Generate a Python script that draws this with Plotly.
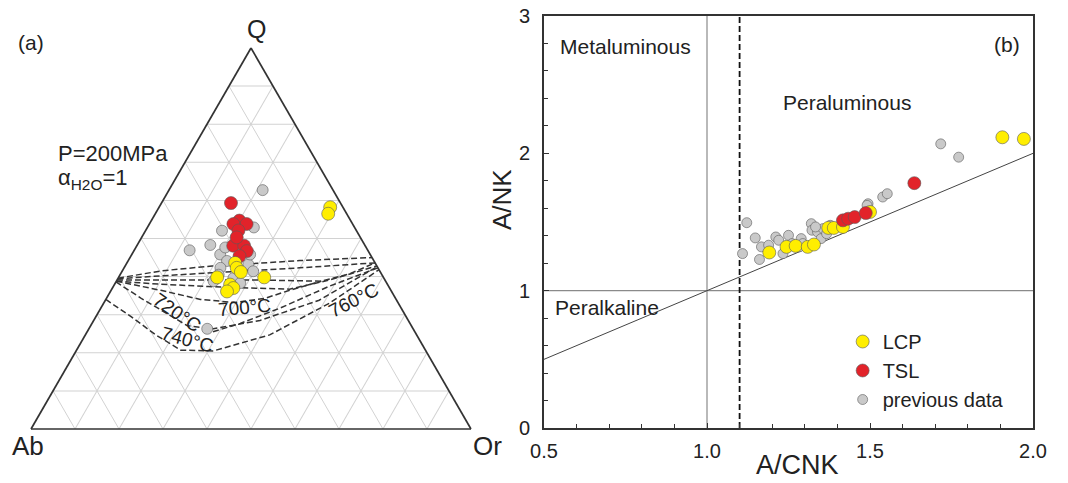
import plotly.graph_objects as go

# ---------------- Panel (a): Q-Ab-Or ternary data (%) ----------------
lcp_q = [58.2, 56.5, 43.6, 42.3, 41.2, 39.8, 39.8, 37.9, 37.0, 36.1]
lcp_ab = [2.9, 4.2, 31.8, 32.1, 31.7, 37.8, 27.1, 35.8, 35.5, 37.4]
lcp_or = [38.9, 39.3, 24.6, 25.6, 27.1, 22.4, 33.1, 26.3, 27.5, 26.5]

tsl_q = [59.3, 54.7, 53.8, 53.8, 52.1, 48.1, 48.1, 46.7, 45.4, 50.3]
tsl_ab = [24.9, 25.3, 24.1, 27.1, 26.8, 30.0, 27.5, 27.6, 29.9, 28.1]
tsl_or = [15.8, 20.0, 22.1, 19.1, 21.1, 21.9, 24.4, 25.7, 24.7, 21.6]

prev_q = [62.7, 46.9, 48.3, 52.1, 53.8, 52.9, 45.8, 44.1, 42.3, 43.2, 41.4, 38.8,
          39.6, 38.3, 26.3, 40.5, 45.8, 47.6]
prev_ab = [16.0, 40.5, 35.1, 30.6, 26.2, 22.9, 34.1, 33.4, 35.8, 29.0, 28.8, 39.1,
           34.2, 33.3, 46.8, 37.1, 27.3, 32.0]
prev_or = [21.3, 12.6, 16.6, 17.4, 20.0, 24.2, 20.1, 22.5, 21.9, 27.8, 29.8, 22.1,
           26.2, 28.4, 26.9, 22.4, 26.9, 20.3]

# cotectic / isotherm curves (Q, Or); Ab = 100 - Q - Or
cot1_q = [39.6, 41.5, 42.8, 43.2, 44.2, 45.0]
cot1_or = [0.0, 8.8, 19.8, 25.9, 39.0, 55.0]
cot2_q = [39.4, 40.2, 41.0, 41.4, 42.3, 43.6]
cot2_or = [0.0, 9.4, 20.7, 26.8, 39.9, 56.4]
cot3_q = [39.1, 39.1, 39.1, 39.1, 38.8, 40.7, 43.6]
cot3_or = [0.0, 10.0, 20.8, 32.5, 46.6, 52.0, 56.4]
cot4_q = [38.8, 38.0, 37.4, 37.0, 36.7, 39.1, 42.8]
cot4_or = [0.0, 10.5, 21.6, 31.3, 40.4, 48.3, 57.2]
iso700_q = [38.8, 36.4, 34.0, 33.2, 34.3, 36.4, 38.8]
iso700_or = [0.0, 11.3, 21.5, 29.8, 36.0, 40.6, 46.6]
iso720_q = [38.6, 34.3, 31.7, 27.1, 26.3, 28.5, 33.8, 42.6]
iso720_or = [0.0, 7.9, 13.0, 22.0, 28.3, 37.8, 48.6, 57.4]
iso740_q = [34.0, 29.5, 24.7, 20.7, 20.5, 24.7, 33.0, 41.8]
iso740_or = [0.0, 8.0, 16.0, 23.7, 31.2, 41.9, 51.3, 58.2]
iso760_q = [42.3, 37.5, 31.7, 27.7, 25.3]
iso760_or = [57.7, 49.1, 40.7, 33.7, 28.1]

curves = [(cot1_q, cot1_or), (cot2_q, cot2_or), (cot3_q, cot3_or), (cot4_q, cot4_or),
          (iso700_q, iso700_or), (iso720_q, iso720_or), (iso740_q, iso740_or),
          (iso760_q, iso760_or)]

# ---------------- Panel (b): A/CNK vs A/NK ----------------
lcp_acnk = [1.906, 1.972, 1.500, 1.372, 1.389, 1.417, 1.191, 1.244, 1.272, 1.309, 1.328]
lcp_ank = [2.117, 2.105, 1.573, 1.457, 1.457, 1.464, 1.278, 1.319, 1.326, 1.319, 1.336]

tsl_acnk = [1.636, 1.417, 1.433, 1.453, 1.487]
tsl_ank = [1.783, 1.512, 1.524, 1.536, 1.565]

prev_acnk = [1.717, 1.772, 1.539, 1.553, 1.494, 1.122, 1.109, 1.148, 1.161, 1.167,
             1.211, 1.220, 1.250, 1.233, 1.289, 1.320, 1.322, 1.339, 1.350, 1.356,
             1.367, 1.189, 1.261, 1.283, 1.428, 1.491, 1.378, 1.294, 1.333]
prev_ank = [2.069, 1.972, 1.682, 1.706, 1.633, 1.495, 1.270, 1.384, 1.227, 1.319,
            1.391, 1.367, 1.403, 1.270, 1.379, 1.488, 1.440, 1.428, 1.379, 1.452,
            1.415, 1.331, 1.343, 1.319, 1.512, 1.621, 1.476, 1.343, 1.464]

diag_x = [0.5, 2.0]          # A/NK = A/CNK reference line
meta_limit = 1.0             # A/CNK = 1
alk_limit = 1.0              # A/NK = 1
s_type_limit = 1.1           # dashed A/CNK = 1.1

x_ticks = [0.5, 1.0, 1.5, 2.0]
x_tick_text = ["0.5", "1.0", "1.5", "2.0"]
y_ticks = [0, 1, 2, 3]

YELLOW = "#FFEE00"
RED = "#E2232A"
GREY = "#C9C9C9"
EDGE = "#5a5a5a"
FONT = "Liberation Sans, Arial, sans-serif"
TXT = "#222222"

fig = go.Figure()

# ternary curves
for q, o in curves:
    ab = [100 - a - c for a, c in zip(q, o)]
    fig.add_trace(go.Scatterternary(a=q, b=ab, c=o, mode="lines",
                                    line=dict(color="#333333", width=1.5, dash="6px,3px"),
                                    showlegend=False, hoverinfo="skip"))

fig.add_trace(go.Scatterternary(a=prev_q, b=prev_ab, c=prev_or, mode="markers",
                                marker=dict(size=11, color=GREY, line=dict(color=EDGE, width=0.6)),
                                showlegend=False, hoverinfo="skip"))
fig.add_trace(go.Scatterternary(a=tsl_q, b=tsl_ab, c=tsl_or, mode="markers",
                                marker=dict(size=13, color=RED, line=dict(color=EDGE, width=0.6)),
                                showlegend=False, hoverinfo="skip"))
fig.add_trace(go.Scatterternary(a=lcp_q, b=lcp_ab, c=lcp_or, mode="markers",
                                marker=dict(size=13, color=YELLOW, line=dict(color=EDGE, width=0.6)),
                                showlegend=False, hoverinfo="skip"))

# panel (b) reference line
fig.add_trace(go.Scatter(x=diag_x, y=diag_x, mode="lines",
                         line=dict(color="#444444", width=1), showlegend=False,
                         hoverinfo="skip", xaxis="x", yaxis="y"))

fig.add_trace(go.Scatter(x=prev_acnk, y=prev_ank, mode="markers", name="previous data",
                         marker=dict(size=10, color=GREY, line=dict(color=EDGE, width=0.6)),
                         legendrank=3, hoverinfo="skip"))
fig.add_trace(go.Scatter(x=lcp_acnk, y=lcp_ank, mode="markers", name="LCP",
                         marker=dict(size=13, color=YELLOW, line=dict(color=EDGE, width=0.6)),
                         legendrank=1, hoverinfo="skip"))
fig.add_trace(go.Scatter(x=tsl_acnk, y=tsl_ank, mode="markers", name="TSL",
                         marker=dict(size=13, color=RED, line=dict(color=EDGE, width=0.6)),
                         legendrank=2, hoverinfo="skip"))

tern_axis = dict(showticklabels=False, ticks="", showgrid=True, gridcolor="#d2d2d2",
                 gridwidth=1, linecolor="#333333", linewidth=1.7, dtick=10,
                 title=dict(text=""), min=0)

shapes = [
    dict(type="line", xref="x", yref="y", x0=meta_limit, x1=meta_limit, y0=0, y1=3,
         line=dict(color="#8a8a8a", width=1.2), layer="below"),
    dict(type="line", xref="x", yref="y", x0=0.5, x1=2.0, y0=alk_limit, y1=alk_limit,
         line=dict(color="#8a8a8a", width=1.2), layer="below"),
    dict(type="line", xref="x", yref="y", x0=s_type_limit, x1=s_type_limit, y0=0, y1=3,
         line=dict(color="#111111", width=1.8, dash="6px,3px"), layer="below"),
]

def ann(text, x, y, size, xref="paper", yref="paper", xanchor="center", angle=0):
    return dict(text=text, x=x, y=y, xref=xref, yref=yref, xanchor=xanchor,
                yanchor="middle", showarrow=False, textangle=angle,
                font=dict(family=FONT, size=size, color=TXT))

annotations = [
    ann("(a)", 31 / 1068, 1 - 43 / 483, 21),
    ann("Q", 256 / 1068, 1 - 29 / 483, 25),
    ann("Ab", 28 / 1068, 1 - 446 / 483, 26),
    ann("Or", 487 / 1068, 1 - 446 / 483, 26),
    ann("P=200MPa", 56 / 1068, 1 - 153 / 483, 22, xanchor="left"),
    ann("α<sub>H2O</sub>=1", 56 / 1068, 1 - 179 / 483, 22, xanchor="left"),
    ann("700°C", 244 / 1068, 1 - 307 / 483, 19, angle=-5),
    ann("720°C", 177 / 1068, 1 - 312 / 483, 19, angle=35),
    ann("740°C", 187 / 1068, 1 - 339 / 483, 19, angle=15),
    ann("760°C", 353 / 1068, 1 - 300 / 483, 19, angle=-27),
    ann("Metaluminous", 0.544, 2.78, 21, xref="x", yref="y", xanchor="left"),
    ann("Peraluminous", 1.228, 2.37, 21, xref="x", yref="y", xanchor="left"),
    ann("Peralkaline", 0.529, 0.88, 21, xref="x", yref="y", xanchor="left"),
    ann("(b)", 1.92, 2.79, 21, xref="x", yref="y"),
    ann("A/NK", 502 / 1068, 1 - 200 / 483, 26, angle=-90),
    ann("A/CNK", 797 / 1068, 1 - 465 / 483, 27),
]

fig.update_layout(
    width=1068, height=483, autosize=False,
    margin=dict(l=0, r=0, t=0, b=0, pad=0, autoexpand=False),
    paper_bgcolor="white", plot_bgcolor="white",
    font=dict(family=FONT, color=TXT),
    ternary=dict(sum=100, bgcolor="white",
                 domain=dict(x=[31 / 1068, 471 / 1068], y=[1 - 429 / 483, 1 - 48 / 483]),
                 aaxis=tern_axis, baxis=tern_axis, caxis=tern_axis),
    xaxis=dict(domain=[544 / 1068, 1033 / 1068], range=[0.5, 2.0], tickvals=x_ticks,
               ticktext=x_tick_text, ticks="inside", ticklen=5, tickwidth=1,
               tickcolor="#333333", ticklabelstandoff=4,
               minor=dict(dtick=0.1, tick0=0.5, ticks="inside", ticklen=4, tickcolor="#333333"),
               showline=True, mirror=True, linecolor="#333333", linewidth=1.7,
               showgrid=False, zeroline=False, tickfont=dict(size=20), anchor="y"),
    yaxis=dict(domain=[1 - 428 / 483, 1 - 16 / 483], range=[0, 3], tickvals=y_ticks,
               ticks="inside", ticklen=5, tickwidth=1, tickcolor="#333333",
               ticklabelstandoff=8,
               minor=dict(dtick=0.2, ticks="inside", ticklen=4, tickcolor="#333333"),
               showline=True, mirror=True, linecolor="#333333", linewidth=1.7,
               showgrid=False, zeroline=False, tickfont=dict(size=20), anchor="x"),
    legend=dict(x=0.789, y=1 - 322 / 483, xanchor="left", yanchor="top",
                font=dict(size=20, family=FONT, color=TXT), itemsizing="trace",
                bgcolor="rgba(0,0,0,0)", borderwidth=0),
    shapes=shapes,
    annotations=annotations,
    hovermode=False,
)

fig.write_html("out.html", config={"displayModeBar": False},
               post_script="document.body.style.margin='0';")
